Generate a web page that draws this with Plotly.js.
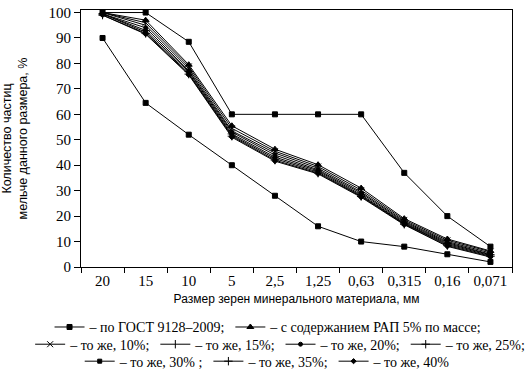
<!DOCTYPE html>
<html>
<head>
<meta charset="utf-8">
<script src="https://cdn.plot.ly/plotly-3.0.1.min.js"></script>
<style>html,body{margin:0;padding:0;background:#fff;}#chart{width:526px;height:378px;}</style>
</head>
<body>
<div id="chart"></div>
<script>
// Grain sizes, mm (category axis labels)
const sizes = ["20", "15", "10", "5", "2,5", "1,25", "0,63", "0,315", "0,16", "0,071"];

// ГОСТ 9128–2009 limits, %
const gostUpper = [100, 100, 88.5, 60, 60, 60, 60, 37, 20, 8];
const gostLower = [90, 64.5, 52, 40, 28, 16, 10, 8, 5, 2];

// Mixes with RAP content, %
const rap5  = [100, 97,   79.5, 55.5, 46.3, 40.2, 31,   19,   11,   6.3];
const rap10 = [100, 96,   78.8, 54.5, 45.5, 39.5, 30.2, 18.5, 10.5, 6];
const rap15 = [100, 95,   78,   53.5, 44.8, 38.8, 29.5, 18,   10,   5.5];
const rap20 = [99.5, 94,  77.2, 53,   44,   38.2, 29,   17.6, 9.6,  5];
const rap25 = [99.5, 93,  76.8, 52.3, 43.2, 37.8, 28.4, 17.2, 9.2,  4.8];
const rap30 = [99.5, 92.3, 76.2, 51.8, 42.6, 37.3, 28,  17,   8.8,  4.5];
const rap35 = [99,  91.8, 75.8, 51.4, 42,   36.9, 27.7, 16.8, 8.4,  4.2];
const rap40 = [99,  91.5, 75.5, 51,   41.6, 36.6, 27.4, 16.6, 8.1,  3.9];

const names = {
  gost: "– по ГОСТ 9128–2009;",
  r5: "– с содержанием РАП 5% по массе;",
  r10: "– то же, 10%;",
  r15: "– то же, 15%;",
  r20: "– то же, 20%;",
  r25: "– то же, 25%;",
  r30: "– то же, 30% ;",
  r35: "– то же, 35%;",
  r40: "– то же, 40%"
};

function tr(y, name, symbol, legend, show, msize) {
  return {
    x: sizes, y: y, name: name, type: "scatter", mode: "lines+markers",
    line: {color: "#000", width: 1},
    marker: {symbol: symbol, size: msize || 5, color: "#000", line: {color: "#000", width: 1}},
    legend: legend, showlegend: show
  };
}

const data = [
  tr(gostUpper, names.gost, "square", "legend", true),
  tr(gostLower, names.gost, "square", "legend", false),
  tr(rap5, names.r5, "triangle-up", "legend", true, 6),
  tr(rap10, names.r10, "x-thin", "legend2", true, 6),
  tr(rap15, names.r15, "line-ns", "legend2", true, 6),
  tr(rap20, names.r20, "circle", "legend2", true, 4),
  tr(rap25, names.r25, "cross-thin", "legend2", true, 6),
  tr(rap30, names.r30, "square", "legend3", true, 4),
  tr(rap35, names.r35, "cross-thin", "legend3", true, 6),
  tr(rap40, names.r40, "diamond", "legend3", true, 4)
];

const serif = "Liberation Serif, Times New Roman, serif";
const sans = "Liberation Sans Narrow, Liberation Sans, Arial, sans-serif";
const legFont = {family: serif, size: 14, color: "#000"};
const legBase = {orientation: "h", font: legFont, bgcolor: "rgba(0,0,0,0)", borderwidth: 0,
  xanchor: "left", yanchor: "middle", itemwidth: 30, tracegroupgap: 0};

const layout = {
  width: 526, height: 378,
  margin: {l: 81, r: 14, t: 10, b: 111, autoexpand: false},
  paper_bgcolor: "#fff", plot_bgcolor: "#fff",
  showlegend: true,
  xaxis: {
    type: "category", range: [-0.5, 9.5], tickson: "boundaries",
    ticks: "outside", ticklen: 5, tickcolor: "#000", tickwidth: 1,
    showline: true, linecolor: "#000", linewidth: 1, mirror: true,
    showgrid: false, zeroline: false,
    tickfont: {family: serif, size: 15, color: "#000"},
    title: {text: "Размер зерен минерального материала, мм", font: {family: sans, size: 12, color: "#000"}, standoff: 6}
  },
  yaxis: {
    range: [0, 101], tickvals: [0,10,20,30,40,50,60,70,80,90,100],
    ticks: "outside", ticklen: 6, tickcolor: "#000", tickwidth: 1,
    showline: true, linecolor: "#000", linewidth: 1, mirror: true,
    showgrid: false, zeroline: false,
    tickfont: {family: serif, size: 15, color: "#000"},
    title: {text: "Количество частиц<br>мельче данного размера, %", font: {family: sans, size: 12.5, color: "#000"}, standoff: 19}
  },
  legend: Object.assign({}, legBase, {x: -0.073, y: -0.235}),
  legend2: Object.assign({}, legBase, {x: -0.118, y: -0.302}),
  legend3: Object.assign({}, legBase, {x: -0.003, y: -0.368})
};

Plotly.newPlot("chart", data, layout, {displayModeBar: false, staticPlot: true});
</script>
</body>
</html>
